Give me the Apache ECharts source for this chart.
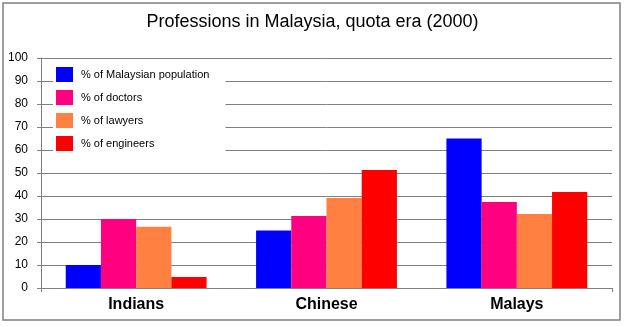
<!DOCTYPE html>
<html>
<head>
<meta charset="utf-8">
<script src="https://cdn.jsdelivr.net/npm/echarts@6/dist/echarts.min.js"></script>
<style>html,body{margin:0;padding:0;background:#fff;}#c{width:625px;height:327px;}</style>
</head>
<body>
<div id="c"></div>
<script>
var categories = ["Indians", "Chinese", "Malays"];
var seriesNames = ["% of Malaysian population", "% of doctors", "% of lawyers", "% of engineers"];
var population = [10, 25, 65];
var doctors = [30, 31.3, 37.4];
var lawyers = [26.6, 39.1, 32.2];
var engineers = [4.8, 51.3, 41.7];
var yTicks = [0, 10, 20, 30, 40, 50, 60, 70, 80, 90, 100];
var colors = ["#0000FF", "#FF0080", "#FF8040", "#FF0000"];

var values = [population, doctors, lawyers, engineers];
var chart = echarts.init(document.getElementById('c'), null, {renderer: 'canvas'});
chart.setOption({
  animation: false,
  backgroundColor: '#fff',
  title: {
    text: 'Professions in Malaysia, quota era (2000)',
    left: 'center', top: 8,
    textStyle: {fontFamily: 'Liberation Sans, Arial', fontSize: 18, fontWeight: 'normal', color: '#000'}
  },
  graphic: [{
    type: 'rect', shape: {x: 3, y: 3, width: 617, height: 317},
    style: {fill: 'none', stroke: '#808080', lineWidth: 1.5}, z: 100
  }],
  legend: {
    orient: 'vertical', left: 53, top: 60,
    padding: [7, 16, 9, 3],
    backgroundColor: '#fff',
    itemWidth: 17, itemHeight: 15, itemGap: 8,
    icon: 'rect',
    z: 10,
    textStyle: {fontFamily: 'Liberation Sans, Arial', fontSize: 11, color: '#000', padding: [0, 0, 0, 3]},
    data: seriesNames
  },
  grid: {left: 41, right: 13, top: 58, bottom: 39, containLabel: false},
  xAxis: {
    type: 'category', data: categories,
    axisLine: {lineStyle: {color: '#808080', width: 1}},
    axisTick: {show: true, length: 4, interval: function (i) { return i === 0; }, lineStyle: {color: '#808080'}},
    axisLabel: {fontFamily: 'Liberation Sans, Arial', fontSize: 16, fontWeight: 'bold', color: '#000', margin: 9}
  },
  yAxis: {
    type: 'value', min: yTicks[0], max: yTicks[yTicks.length - 1], interval: 10,
    axisLine: {show: true, lineStyle: {color: '#808080', width: 1}},
    axisTick: {show: true, length: 4, lineStyle: {color: '#808080'}},
    splitLine: {lineStyle: {color: '#808080', width: 1}},
    axisLabel: {fontFamily: 'Liberation Sans, Arial', fontSize: 12, color: '#000', margin: 13}
  },
  series: seriesNames.map(function (n, i) {
    return {
      name: n, type: 'bar', data: values[i],
      barGap: '0%', barCategoryGap: '26%',
      itemStyle: {color: colors[i]}
    };
  })
});
</script>
</body>
</html>
